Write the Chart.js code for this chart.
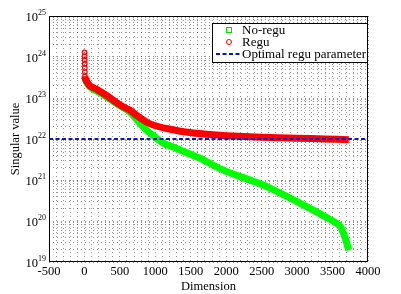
<!DOCTYPE html>
<html>
<head>
<meta charset="utf-8">
<script src="https://cdn.jsdelivr.net/npm/chart.js@4/dist/chart.umd.min.js"></script>
<style>
  html, body { margin: 0; padding: 0; background: #fff; }
  #wrap { width: 401px; height: 294px; }
</style>
</head>
<body>
<div id="wrap"><canvas id="chart" width="401" height="294"></canvas></div>
<script>
// values
const noReguDims = [10, 33, 80, 165, 280, 400, 520, 637, 750, 873, 1000, 1105, 1300, 1487, 1628, 1958, 2300, 2573, 3044, 3422, 3611, 3729];
const noReguVals = [3e23, 2.4e23, 1.85e23, 1.5e23, 1.15e23, 8.4e22, 6.2e22, 4.6e22, 2.8e22, 1.66e22, 1.1e22, 8e21, 5.9e21, 4.3e21, 3.4e21, 1.74e21, 1.05e21, 6.9e20, 2.7e20, 1.2e20, 7.2e19, 1.95e19];

const reguDims = [1, 2, 3, 4, 5, 6, 7, 15, 33, 80, 165, 280, 400, 496, 637, 750, 873, 1000, 1157, 1400, 1723, 2000, 2500, 3000, 3400, 3729];
const reguVals = [1.3e24, 1.05e24, 8.5e23, 6.8e23, 5.4e23, 4.3e23, 3.4e23, 2.9e23, 2.5e23, 1.95e23, 1.65e23, 1.25e23, 9e22, 6.8e22, 5.1e22, 3.6e22, 2.6e22, 2.1e22, 1.8e22, 1.5e22, 1.3e22, 1.2e22, 1.1e22, 1.05e22, 1.0e22, 9.6e21];
const reguCircles = 7; // first points shown as separate circles

const optimalRegu = 1e22;
const xTicks = [-500, 0, 500, 1000, 1500, 2000, 2500, 3000, 3500, 4000];
const yDecades = [19, 20, 21, 22, 23, 24, 25];

const serif = 'Liberation Serif';

function isDecade(v) {
    const l = Math.log10(v);
    return Math.abs(l - Math.round(l)) < 1e-9;
}

// frame round the plot area
const framePlugin = {
    id: 'frame',
    afterDatasetsDraw(chart) {
        const a = chart.chartArea, ctx = chart.ctx;
        ctx.save();
        ctx.strokeStyle = '#000';
        ctx.lineWidth = 1;
        ctx.strokeRect(a.left + 0.5, a.top + 0.5, a.right - a.left - 1, a.bottom - a.top - 1);
        ctx.restore();
    }
};

// y labels as 10 with a raised exponent
const powLabelPlugin = {
    id: 'powLabels',
    afterDraw(chart) {
        const s = chart.scales.y, ctx = chart.ctx;
        ctx.save();
        ctx.fillStyle = '#000';
        ctx.textBaseline = 'alphabetic';
        ctx.textAlign = 'left';
        s.ticks.forEach(t => {
            if (!isDecade(t.value)) return;
            const e = String(Math.round(Math.log10(t.value)));
            const y = s.getPixelForValue(t.value);
            ctx.font = '8px "' + serif + '"';
            const ew = ctx.measureText(e).width;
            ctx.font = '12.5px "' + serif + '"';
            const bw = ctx.measureText('10').width;
            const right = s.right - 3;
            ctx.fillText('10', right - ew - bw, y + 5);
            ctx.font = '8px "' + serif + '"';
            ctx.fillText(e, right - ew, y - 1);
        });
        ctx.restore();
    }
};

// boxed legend in the top right of the plot
const legendPlugin = {
    id: 'boxLegend',
    afterDraw(chart) {
        const ctx = chart.ctx;
        const ds = chart.data.datasets;
        const x0 = 212, y0 = 23, w = 155, h = 39;
        ctx.save();
        ctx.fillStyle = '#fff';
        ctx.fillRect(x0, y0, w, h);
        ctx.strokeStyle = '#000';
        ctx.lineWidth = 1;
        ctx.strokeRect(x0 + 0.5, y0 + 0.5, w, h);
        ctx.font = '13px "' + serif + '"';
        ctx.textBaseline = 'middle';
        ctx.fillStyle = '#000';
        const rows = [y0 + 7, y0 + 19, y0 + 31];
        ctx.strokeStyle = '#00e000';
        ctx.strokeRect(226.5, rows[0] - 2.5, 5, 5);
        ctx.strokeStyle = '#ff0000';
        ctx.beginPath();
        ctx.arc(229, rows[1], 2.5, 0, Math.PI * 2);
        ctx.stroke();
        ctx.strokeStyle = '#1010d0';
        ctx.lineWidth = 2;
        ctx.setLineDash([4, 2.5]);
        ctx.beginPath();
        ctx.moveTo(216, rows[2]);
        ctx.lineTo(241, rows[2]);
        ctx.stroke();
        ctx.setLineDash([]);
        ds.forEach((d, i) => ctx.fillText(d.label, 242, rows[i] + 1));
        ctx.restore();
    }
};

const gridStyle = {
    color: 'rgba(0,0,0,0.42)',
    lineWidth: 1,
    drawTicks: false
};

new Chart(document.getElementById('chart'), {
    type: 'scatter',
    data: {
        datasets: [
            {
                label: 'No-regu',
                data: noReguDims.map((d, i) => ({ x: d, y: noReguVals[i] })),
                showLine: true,
                borderColor: '#00ff00',
                borderWidth: 7,
                pointRadius: 0,
                tension: 0.3,
                order: 2
            },
            {
                label: 'Regu',
                data: reguDims.map((d, i) => ({ x: d, y: reguVals[i] })),
                showLine: true,
                borderColor: '#ff0000',
                backgroundColor: 'rgba(255,255,255,0)',
                borderWidth: 7,
                pointRadius: ctx => ctx.dataIndex < reguCircles ? 2.3 : 0,
                pointBorderWidth: 1.2,
                pointBorderColor: '#ff0000',
                tension: 0.3,
                segment: {
                    borderColor: ctx => ctx.p0DataIndex < reguCircles - 1 ? 'rgba(0,0,0,0)' : '#ff0000'
                },
                order: 1
            },
            {
                label: 'Optimal regu parameter',
                data: [{ x: xTicks[0], y: optimalRegu }, { x: xTicks[xTicks.length - 1], y: optimalRegu }],
                showLine: true,
                borderColor: '#1010d0',
                borderWidth: 2,
                borderDash: [4, 2.5],
                pointRadius: 0,
                order: 0
            }
        ]
    },
    options: {
        responsive: false,
        animation: false,
        layout: { padding: { top: 16, right: 33, left: 0, bottom: 0 } },
        plugins: {
            legend: { display: false },
            tooltip: { enabled: false }
        },
        scales: {
            x: {
                type: 'linear',
                min: xTicks[0],
                max: xTicks[xTicks.length - 1],
                afterBuildTicks: scale => {
                    const t = [];
                    for (let v = xTicks[0]; v <= xTicks[xTicks.length - 1]; v += 100) t.push({ value: v });
                    scale.ticks = t;
                },
                afterFit: scale => { scale.height = 32; },
                ticks: {
                    autoSkip: false,
                    maxRotation: 0,
                    padding: 2,
                    color: '#000',
                    font: { family: serif, size: 12.5 },
                    callback: v => xTicks.includes(v) ? String(v) : ''
                },
                grid: gridStyle,
                border: { display: false, dash: [1, 3] },
                title: {
                    display: true,
                    text: 'Dimension',
                    color: '#000',
                    font: { family: serif, size: 12.5 },
                    padding: { top: 0, bottom: 0 }
                }
            },
            y: {
                type: 'logarithmic',
                min: Math.pow(10, yDecades[0]),
                max: Math.pow(10, yDecades[yDecades.length - 1]),
                afterBuildTicks: scale => {
                    const t = [];
                    for (let e = yDecades[0]; e < yDecades[yDecades.length - 1]; e++) {
                        for (let m = 1; m < 10; m++) t.push({ value: m * Math.pow(10, e) });
                    }
                    t.push({ value: Math.pow(10, yDecades[yDecades.length - 1]) });
                    scale.ticks = t;
                },
                afterFit: scale => { scale.width = 49; },
                ticks: {
                    autoSkip: false,
                    padding: 3,
                    color: '#000',
                    font: { family: serif, size: 12 },
                    callback: () => ''
                },
                grid: gridStyle,
                border: { display: false, dash: [1, 3] },
                title: {
                    display: true,
                    text: 'Singular value',
                    color: '#000',
                    font: { family: serif, size: 12.5 },
                    padding: { top: 8, bottom: 0 }
                }
            }
        }
    },
    plugins: [framePlugin, powLabelPlugin, legendPlugin]
});
</script>
</body>
</html>
